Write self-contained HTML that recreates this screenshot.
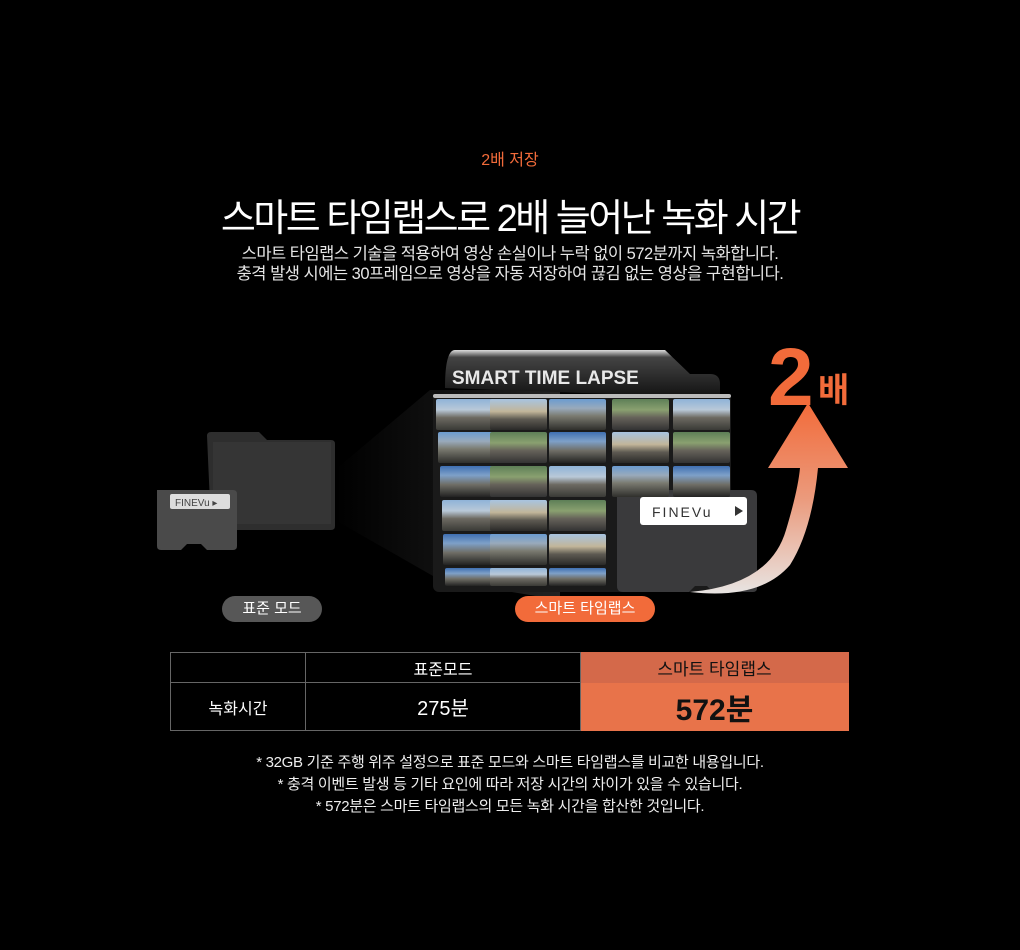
<!DOCTYPE html>
<html><head><meta charset="utf-8"><style>
*{margin:0;padding:0;box-sizing:border-box}
body{width:1020px;height:950px;background:#000;position:relative;overflow:hidden;font-family:"Liberation Sans","Noto Sans CJK KR",sans-serif;color:#fff}
.a{position:absolute}
.c{text-align:center;left:0;width:1020px}
.cell{position:absolute;width:57px;height:31px;border-radius:2px}
.g1{background:linear-gradient(#8fb3d8 0,#b9c9d8 35%,#6d6a62 60%,#3a3a36 100%)}
.g2{background:linear-gradient(#6a9bd0 0,#9ab 30%,#7a7a70 55%,#2f2f2c 100%)}
.g3{background:linear-gradient(#5d7f57 0,#8aa070 35%,#66625a 60%,#333 100%)}
.g4{background:linear-gradient(#a8c4e0 0,#c2b69a 40%,#5e5a52 65%,#2a2a28 100%)}
.g5{background:linear-gradient(#3f6fb2 0,#7ea0c8 30%,#6f6e66 60%,#222 100%)}
td{border:1px solid #666;text-align:center}
</style></head><body>
<div class="a c" style="top:146px;font-size:16px;color:#f26b3a">2배 저장</div>
<div class="a c" style="top:187px;font-size:38px;letter-spacing:-2.5px;font-weight:400">스마트 타임랩스로 2배 늘어난 녹화 시간</div>
<div class="a c" style="top:244px;font-size:16.5px;line-height:20px;color:#e6e6e6;letter-spacing:-0.5px">스마트 타임랩스 기술을 적용하여 영상 손실이나 누락 없이 572분까지 녹화합니다.<br>충격 발생 시에는 30프레임으로 영상을 자동 저장하여 끊김 없는 영상을 구현합니다.</div>

<svg class="a" style="left:0;top:330px" width="1020" height="280">
<defs>
<linearGradient id="cone" x1="0" x2="1"><stop offset="0" stop-color="#000"/><stop offset="1" stop-color="#222"/></linearGradient>
<linearGradient id="arr" x1="0" y1="1" x2="0" y2="0"><stop offset="0" stop-color="#e8e4e2"/><stop offset="0.5" stop-color="#eb9a7c"/><stop offset="1" stop-color="#f26b3a"/></linearGradient>
<linearGradient id="tab" x1="0" y1="0" x2="0" y2="1"><stop offset="0" stop-color="#ddd"/><stop offset="0.15" stop-color="#444"/><stop offset="1" stop-color="#111"/></linearGradient>
</defs>
<polygon points="335,140 430,60 560,60 560,270 440,250 335,190" fill="url(#cone)"/>
<path d="M207,106 q0,-4 4,-4 h48 l8,8 h64 q4,0 4,4 v82 q0,4 -4,4 h-116 q-4,0 -4,-4z" fill="#2e2e2e"/>
<path d="M213,112 h118 v82 h-118z" fill="#353535"/>
<path d="M157,160 h76 q4,0 4,4 v52 q0,4 -4,4 h-26 l-6,-6 h-14 l-6,6 h-20 q-4,0 -4,-4z" fill="#4a4a4a"/>
<rect x="170" y="164" width="60" height="15" rx="2" fill="#ddd"/>
<text x="175" y="176" font-size="10" fill="#444" font-family="Liberation Sans">FINEVu ▸</text>
<path d="M445,58 q0,-38 10,-38 h210 l25,24 h20 q10,0 10,10 v14z" fill="url(#tab)"/>
<text x="452" y="54" font-size="19" font-weight="bold" fill="#e8e8e8" font-family="Liberation Sans">SMART TIME LAPSE</text>
<rect x="433" y="64" width="298" height="198" rx="6" fill="#1a1a1a"/>
<rect x="433" y="64" width="298" height="4" rx="2" fill="#bbb"/>
<path d="M617,166 q0,-6 6,-6 h128 q6,0 6,6 v92 q0,4 -4,4 h-40 l-6,-6 h-12 l-6,6 h-66 q-6,0 -6,-6z" fill="#3a3a3c"/>
<rect x="640" y="167" width="107" height="28" rx="3" fill="#fff"/>
<text x="652" y="187" font-size="14" fill="#333" font-family="Liberation Sans" letter-spacing="2">FINEVu</text>
<polygon points="735,176 743,181 735,186" fill="#333"/>
<path d="M690,262 Q770,255 786,200 Q798,160 800,138 H768 L808,73 L848,138 H818 Q812,200 790,235 Q760,270 690,262z" fill="url(#arr)"/>
<text x="768" y="75" font-size="82" font-weight="bold" fill="#f26b3a" font-family="Liberation Sans">2</text>
<text x="818" y="72" font-size="34" font-weight="bold" fill="#f26b3a" font-family="Noto Sans CJK KR,sans-serif">배</text>
</svg>
<div class="a" style="left:0;top:0">
<div class="cell g1" style="left:436px;top:399px"></div><div class="cell g4" style="left:490px;top:399px"></div><div class="cell g2" style="left:549px;top:399px"></div><div class="cell g3" style="left:612px;top:399px"></div><div class="cell g1" style="left:673px;top:399px"></div>
<div class="cell g2" style="left:438px;top:432px"></div><div class="cell g3" style="left:490px;top:432px"></div><div class="cell g5" style="left:549px;top:432px"></div><div class="cell g4" style="left:612px;top:432px"></div><div class="cell g3" style="left:673px;top:432px"></div>
<div class="cell g5" style="left:440px;top:466px"></div><div class="cell g3" style="left:490px;top:466px"></div><div class="cell g1" style="left:549px;top:466px"></div><div class="cell g2" style="left:612px;top:466px"></div><div class="cell g5" style="left:673px;top:466px"></div>
<div class="cell g1" style="left:442px;top:500px"></div><div class="cell g4" style="left:490px;top:500px"></div><div class="cell g3" style="left:549px;top:500px"></div>
<div class="cell g5" style="left:443px;top:534px"></div><div class="cell g2" style="left:490px;top:534px"></div><div class="cell g4" style="left:549px;top:534px"></div>
<div class="cell g5" style="left:445px;top:568px;height:18px"></div><div class="cell g1" style="left:490px;top:568px;height:18px"></div><div class="cell g5" style="left:549px;top:568px;height:18px"></div>
</div>
<div class="a" style="left:222px;top:596px;width:100px;height:26px;border-radius:13px;background:#575757;font-size:15px;text-align:center;line-height:26px">표준 모드</div>
<div class="a" style="left:515px;top:596px;width:140px;height:26px;border-radius:13px;background:#f26b3a;font-size:15px;text-align:center;line-height:26px">스마트 타임랩스</div>
<table class="a" style="left:170px;top:652px;width:679px;border-collapse:collapse;font-size:16px">
<tr style="height:30px"><td style="width:135px"></td><td style="width:275px">표준모드</td><td style="background:#d4694a;color:#111;font-size:17px;border-color:#d4694a">스마트 타임랩스</td></tr>
<tr style="height:48px"><td>녹화시간</td><td style="font-size:20px">275분</td><td style="background:#e8734a;color:#111;font-size:30px;font-weight:bold;border-color:#e8734a">572분</td></tr>
</table>
<div class="a c" style="top:752px;font-size:15px;line-height:22px;color:#eee;letter-spacing:-0.3px">* 32GB 기준 주행 위주 설정으로 표준 모드와 스마트 타임랩스를 비교한 내용입니다.<br>* 충격 이벤트 발생 등 기타 요인에 따라 저장 시간의 차이가 있을 수 있습니다.<br>* 572분은 스마트 타임랩스의 모든 녹화 시간을 합산한 것입니다.</div>
</body></html>
